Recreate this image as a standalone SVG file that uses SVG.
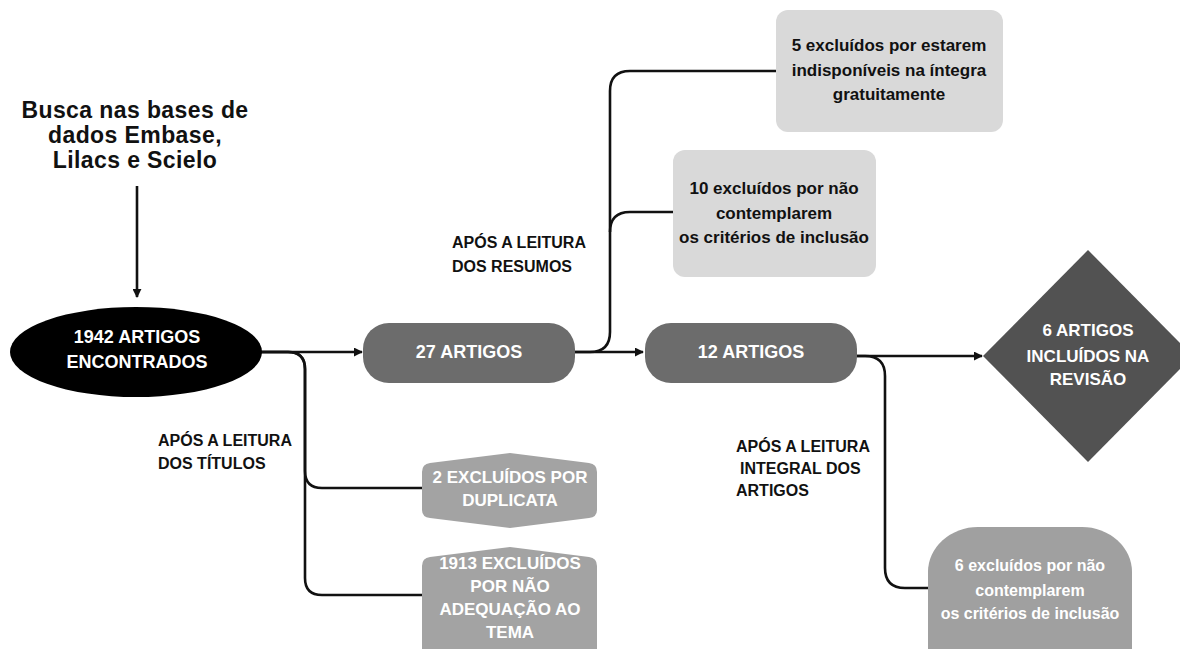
<svg xmlns="http://www.w3.org/2000/svg" width="1180" height="649" viewBox="0 0 1180 649">
<defs>
<style>
text{font-family:"Liberation Sans",Arial,sans-serif;font-weight:bold;}
.w{fill:#ffffff;text-anchor:middle;}
.b{fill:#111111;text-anchor:middle;}
.t{fill:#111111;text-anchor:middle;font-size:23px;letter-spacing:0.4px;}
.lbl{fill:#111111;font-size:16px;}
.con{fill:none;stroke:#111;stroke-width:2.6;}
</style>
<marker id="ah" viewBox="0 0 10 10" refX="9" refY="5" markerWidth="9" markerHeight="9" markerUnits="userSpaceOnUse" orient="auto">
<path d="M0,0 L10,5 L0,10 Z" fill="#111"/>
</marker>
</defs>
<rect width="1180" height="649" fill="#ffffff"/>

<g id="title">
<text class="t" x="135" y="118">Busca nas bases de</text>
<text class="t" x="135" y="143">dados Embase,</text>
<text class="t" x="135" y="168">Lilacs e Scielo</text>
</g>

<g id="connectors">
<path class="con" d="M137,186 V297" marker-end="url(#ah)"/>
<path class="con" d="M257,352 H362" marker-end="url(#ah)"/>
<path class="con" d="M257,352 H288 Q305,352 305,369 V471 Q305,488 322,488 H423"/>
<path class="con" d="M257,352 H288 Q305,352 305,369 V578 Q305,595 322,595 H423"/>
<path class="con" d="M575,352 H643" marker-end="url(#ah)"/>
<path class="con" d="M575,352 H590 Q610,352 610,332 V91 Q610,71 630,71 H777"/>
<path class="con" d="M610,232 Q610,212 630,212 H674"/>
<path class="con" d="M857,356 H982" marker-end="url(#ah)"/>
<path class="con" d="M857,356 H865 Q885,356 885,376 V568 Q885,588 905,588 H929"/>
</g>

<g id="n1942">
<ellipse cx="136" cy="352" rx="126" ry="45" fill="#000"/>
<text class="w" x="137" y="343" font-size="18">1942 ARTIGOS</text>
<text class="w" x="137" y="368" font-size="18">ENCONTRADOS</text>
</g>

<g id="n27">
<rect x="363" y="323" width="212" height="60" rx="26" fill="#6c6c6c"/>
<text class="w" x="469" y="358" font-size="18">27 ARTIGOS</text>
</g>

<g id="n12">
<rect x="645" y="323" width="212" height="60" rx="26" fill="#6c6c6c"/>
<text class="w" x="751" y="358" font-size="18">12 ARTIGOS</text>
</g>

<g id="n6incl">
<path d="M983,356 L1088,250 L1193,356 L1088,462 Z" fill="#525252"/>
<text class="w" x="1088" y="336" font-size="17">6 ARTIGOS</text>
<text class="w" x="1088" y="362" font-size="17">INCLUÍDOS NA</text>
<text class="w" x="1088" y="385" font-size="17">REVISÃO</text>
</g>

<g id="ndup">
<path d="M430,463 L510,453 L589,463 Q597,464 597,472 L597,510 Q597,517 589,518 L510,528 L430,518 Q422,517 422,510 L422,472 Q422,464 430,463 Z" fill="#a3a3a3"/>
<text class="w" x="510" y="483" font-size="17">2 EXCLUÍDOS POR</text>
<text class="w" x="510" y="506" font-size="17">DUPLICATA</text>
</g>

<g id="n1913">
<path d="M430,557 L510,547 L589,557 Q597,558 597,566 L597,660 L422,660 L422,566 Q422,558 430,557 Z" fill="#a3a3a3"/>
<text class="w" x="510" y="569" font-size="17">1913 EXCLUÍDOS</text>
<text class="w" x="510" y="592" font-size="17">POR NÃO</text>
<text class="w" x="510" y="615" font-size="17">ADEQUAÇÃO AO</text>
<text class="w" x="510" y="638" font-size="17">TEMA</text>
</g>

<g id="n5excl">
<rect x="776" y="10" width="227" height="122" rx="12" fill="#d9d9d9"/>
<text class="b" x="889" y="51" font-size="17">5 excluídos por estarem</text>
<text class="b" x="889" y="76" font-size="17">indisponíveis na íntegra</text>
<text class="b" x="889" y="100" font-size="17">gratuitamente</text>
</g>

<g id="n10excl">
<rect x="673" y="150" width="203" height="127" rx="12" fill="#d9d9d9"/>
<text class="b" x="774" y="194" font-size="17">10 excluídos por não</text>
<text class="b" x="774" y="219" font-size="17">contemplarem</text>
<text class="b" x="774" y="243" font-size="17">os critérios de inclusão</text>
</g>

<g id="n6excl">
<rect x="928" y="527" width="204" height="170" rx="50" ry="45" fill="#a0a0a0"/>
<text class="w" x="1030" y="571" font-size="16">6 excluídos por não</text>
<text class="w" x="1030" y="596" font-size="16">contemplarem</text>
<text class="w" x="1030" y="619" font-size="16">os critérios de inclusão</text>
</g>

<g id="labels">
<text class="lbl" x="158" y="446">APÓS A LEITURA</text>
<text class="lbl" x="158" y="469">DOS TÍTULOS</text>
<text class="lbl" x="452" y="248">APÓS A LEITURA</text>
<text class="lbl" x="452" y="272">DOS RESUMOS</text>
<text class="lbl" x="736" y="452">APÓS A LEITURA</text>
<text class="lbl" x="740" y="474">INTEGRAL DOS</text>
<text class="lbl" x="736" y="496">ARTIGOS</text>
</g>
</svg>
